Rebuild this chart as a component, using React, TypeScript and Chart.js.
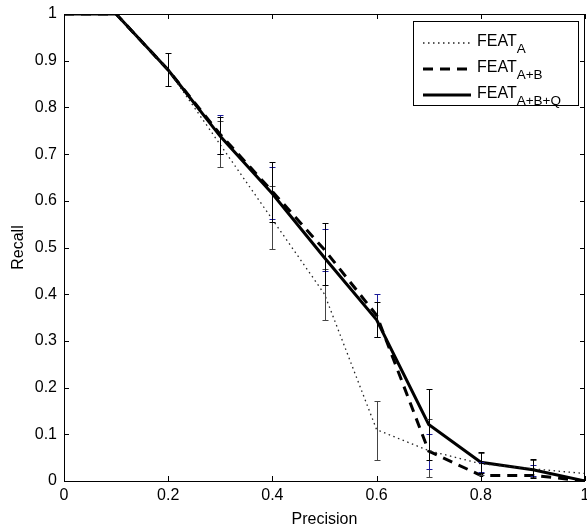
import React, { useEffect, useRef } from "react";
import { Chart, registerables } from "chart.js";
Chart.register(...registerables);

const precision = [0, 0.1, 0.2, 0.3, 0.4, 0.5, 0.6, 0.7, 0.8, 0.9, 1.0];
const recallA = [1, 1, 0.88, 0.72, 0.56, 0.4, 0.11, 0.065, 0.037, 0.026, 0.016];
const recallAB = [1, 1, 0.88, 0.742, 0.62, 0.495, 0.355, 0.064, 0.012, 0.012, 0];
const recallABQ = [1, 1, 0.88, 0.738, 0.615, 0.478, 0.345, 0.121, 0.04, 0.024, 0];

const lowA = [null, null, null, 0.672, 0.497, 0.344, 0.045, 0.009, 0.012, 0.008, null];
const highA = [null, null, null, 0.77, 0.632, 0.454, 0.172, 0.132, 0.06, 0.044, null];
const lowAB = [null, null, null, 0.7, 0.562, 0.449, 0.308, 0.025, 0.02, 0.011, null];
const highAB = [null, null, null, 0.783, 0.672, 0.54, 0.4, 0.1, 0.041, 0.034, null];
const lowABQ = [null, null, 0.846, 0.7, 0.554, 0.419, 0.308, 0.046, 0.017, 0.006, null];
const highABQ = [null, null, 0.917, 0.78, 0.684, 0.552, 0.383, 0.198, 0.063, 0.047, null];

const xTicks = [0, 0.2, 0.4, 0.6, 0.8, 1];
const yTicks = [0, 0.1, 0.2, 0.3, 0.4, 0.5, 0.6, 0.7, 0.8, 0.9, 1];

const seriesNames = ["A", "A+B", "A+B+Q"];
const FONT = "'Liberation Sans', Arial, Helvetica, sans-serif";

const toPoints = (ys: number[]) => precision.map((x, i) => ({ x, y: ys[i] }));

const errorBars = [
  { low: lowA, high: highA, color: "#444444" },
  { low: lowAB, high: highAB, color: "#1c1c9a" },
  { low: lowABQ, high: highABQ, color: "#000000" },
];

const errorBarPlugin = {
  id: "errorBars",
  afterDatasetsDraw(chart: any) {
    const { ctx, scales } = chart;
    const xs = scales.x;
    const ys = scales.y;
    ctx.save();
    ctx.lineWidth = 1;
    ctx.setLineDash([]);
    errorBars.forEach((eb) => {
      ctx.strokeStyle = eb.color;
      precision.forEach((p, i) => {
        const lo = eb.low[i];
        const hi = eb.high[i];
        if (lo == null || hi == null) return;
        const px = Math.round(xs.getPixelForValue(p)) + 0.5;
        const y1 = Math.round(ys.getPixelForValue(lo)) + 0.5;
        const y2 = Math.round(ys.getPixelForValue(hi)) + 0.5;
        ctx.beginPath();
        ctx.moveTo(px, y1);
        ctx.lineTo(px, y2);
        ctx.moveTo(px - 3, y1);
        ctx.lineTo(px + 3, y1);
        ctx.moveTo(px - 3, y2);
        ctx.lineTo(px + 3, y2);
        ctx.stroke();
      });
    });
    ctx.restore();
  },
};

const frameLegendPlugin = {
  id: "frameLegend",
  afterDraw(chart: any) {
    const { ctx, chartArea, scales } = chart;
    const { left, right, top, bottom } = chartArea;
    ctx.save();
    ctx.setLineDash([]);
    ctx.strokeStyle = "#000";
    ctx.lineWidth = 1;
    ctx.strokeRect(left + 0.5, top + 0.5, right - left - 1, bottom - top);
    const tl = 5;
    ctx.beginPath();
    xTicks.forEach((v) => {
      const px = Math.round(scales.x.getPixelForValue(v)) + 0.5;
      ctx.moveTo(px, bottom);
      ctx.lineTo(px, bottom - tl);
      ctx.moveTo(px, top);
      ctx.lineTo(px, top + tl);
    });
    yTicks.forEach((v) => {
      const py = Math.round(scales.y.getPixelForValue(v)) + 0.5;
      ctx.moveTo(left, py);
      ctx.lineTo(left + tl, py);
      ctx.moveTo(right, py);
      ctx.lineTo(right - tl, py);
    });
    ctx.stroke();

    // legend
    const bx = right - 172;
    const by = top + 7;
    const bw = 165;
    const bh = 84;
    ctx.fillStyle = "#fff";
    ctx.fillRect(bx, by, bw, bh);
    ctx.lineWidth = 1;
    ctx.strokeRect(bx + 0.5, by + 0.5, bw, bh);
    const styles = chart.data.datasets;
    seriesNames.forEach((name, i) => {
      const ly = by + 22 + i * 26;
      const ds = styles[i];
      ctx.save();
      ctx.strokeStyle = ds.borderColor;
      ctx.lineWidth = ds.borderWidth;
      ctx.setLineDash(ds.borderDash || []);
      ctx.beginPath();
      ctx.moveTo(bx + 10, ly);
      ctx.lineTo(bx + 58, ly);
      ctx.stroke();
      ctx.restore();
      ctx.fillStyle = "#000";
      ctx.textAlign = "left";
      ctx.textBaseline = "alphabetic";
      ctx.font = `16px ${FONT}`;
      ctx.fillText("FEAT", bx + 64, ly + 3);
      const w = ctx.measureText("FEAT").width;
      ctx.font = `13.5px ${FONT}`;
      ctx.fillText(name, bx + 64 + w, ly + 10);
    });
    ctx.restore();
  },
};

export default function App() {
  const ref = useRef<HTMLCanvasElement | null>(null);
  useEffect(() => {
    if (!ref.current) return;
    const chart = new Chart(ref.current, {
      type: "line",
      data: {
        datasets: [
          {
            label: "FEAT_A",
            data: toPoints(recallA),
            borderColor: "#222222",
            borderWidth: 1.3,
            borderDash: [1.5, 3.5],
            pointRadius: 0,
            tension: 0,
          },
          {
            label: "FEAT_A+B",
            data: toPoints(recallAB),
            borderColor: "#000000",
            borderWidth: 3,
            borderDash: [10, 7],
            pointRadius: 0,
            tension: 0,
          },
          {
            label: "FEAT_A+B+Q",
            data: toPoints(recallABQ),
            borderColor: "#000000",
            borderWidth: 3,
            pointRadius: 0,
            tension: 0,
          },
        ],
      },
      options: {
        animation: false,
        responsive: false,
        maintainAspectRatio: false,
        layout: { padding: { top: 14, right: 2, left: 0, bottom: 0 } },
        plugins: { legend: { display: false }, tooltip: { enabled: false } },
        scales: {
          x: {
            type: "linear",
            min: 0,
            max: 1,
            afterBuildTicks: (s: any) => {
              s.ticks = xTicks.map((v) => ({ value: v }));
            },
            afterFit: (s: any) => {
              s.height = 48;
              s.paddingLeft = 0;
              s.paddingRight = 0;
            },
            grid: { display: false, drawTicks: false },
            border: { display: false },
            ticks: {
              padding: 5,
              color: "#000",
              font: { family: FONT, size: 16 },
              maxRotation: 0,
              autoSkip: false,
              callback: (v: any) => String(Math.round(Number(v) * 10) / 10),
            },
            title: {
              display: true,
              text: "Precision",
              color: "#000",
              font: { family: FONT, size: 16 },
              padding: { top: 0, bottom: 0 },
            },
          },
          y: {
            type: "linear",
            min: 0,
            max: 1,
            afterBuildTicks: (s: any) => {
              s.ticks = yTicks.map((v) => ({ value: v }));
            },
            afterFit: (s: any) => {
              s.width = 64;
              s.paddingTop = 0;
              s.paddingBottom = 0;
            },
            grid: { display: false, drawTicks: false },
            border: { display: false },
            ticks: {
              padding: 7,
              color: "#000",
              font: { family: FONT, size: 16 },
              autoSkip: false,
              callback: (v: any) => String(Math.round(Number(v) * 10) / 10),
            },
            title: {
              display: true,
              text: "Recall",
              color: "#000",
              font: { family: FONT, size: 16 },
              padding: { top: 9, bottom: 0 },
            },
          },
        },
      },
      plugins: [errorBarPlugin, frameLegendPlugin],
    } as any);
    return () => chart.destroy();
  }, []);
  return (
    <div style={{ position: "fixed", left: 0, top: 0, width: 587, height: 529, background: "#fff" }}>
      <canvas ref={ref} width={587} height={529} style={{ width: 587, height: 529, display: "block" }} />
    </div>
  );
}
